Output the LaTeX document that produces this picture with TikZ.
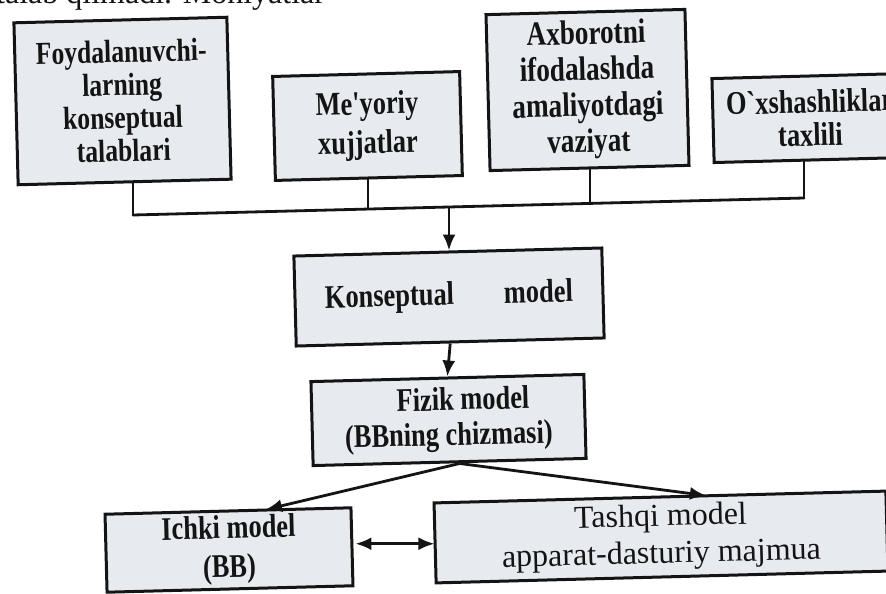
\documentclass[tikz,border=0pt]{standalone}
\usepackage{fontspec}
\setmainfont{Liberation Serif}
\newfontfamily\narrowserif{Liberation Serif Bold}[FakeStretch=0.8]
\newfontfamily\plainserif{Liberation Serif}
\usetikzlibrary{arrows.meta,calc}
\definecolor{ink}{RGB}{20,20,20}
\definecolor{boxfill}{RGB}{231,235,239}
\tikzset{
  blockbox/.style={draw=ink, line width=3pt, fill=boxfill, text=ink,
    align=center, inner sep=0pt, rotate=1.5},
  link/.style={draw=ink, line width=2.8pt, line cap=round},
  tip/.tip={Latex[length=16pt,width=13pt]},
  arrowlink/.style={link, line cap=butt, -tip},
}
\begin{document}
\begin{tikzpicture}[x=1pt,y=-1pt]
\useasboundingbox (0,0) rectangle (886,594);
\fill[white] (0,0) rectangle (886,594);
\begin{scope}
\clip (0,0) rectangle (886,594);

% running text of the page above the scheme
\node[anchor=base west, inner sep=0pt, text=ink,
      font={\plainserif\fontsize{32}{36}\selectfont}] (runtext) at (-4,4)
  {talab qilmadi. Mohiyatlar};

% source boxes
\node[blockbox, minimum width=213pt, minimum height=162pt,
      font={\narrowserif\fontsize{32}{33}\selectfont}] (users) at (122.5,101)
  {Foydalanuvchi-\\larning\\konseptual\\talablari};
\node[blockbox, minimum width=187pt, minimum height=104pt,
      font={\narrowserif\fontsize{33}{39}\selectfont}] (norms) at (367.5,126)
  {Me'yoriy\\xujjatlar};
\node[blockbox, minimum width=199pt, minimum height=156pt,
      font={\narrowserif\fontsize{34}{36}\selectfont}] (practice) at (587.5,90)
  {Axborotni\\ifodalashda\\amaliyotdagi\\vaziyat};
\node[blockbox, minimum width=194pt, minimum height=84pt,
      font={\narrowserif\fontsize{33}{33}\selectfont}] (analogs) at (810,118)
  {O`xshashliklar\\taxlili};

% model chain
\node[blockbox, minimum width=308pt, minimum height=90pt,
      font={\narrowserif\fontsize{33}{36}\selectfont}] (concept) at (449,297)
  {Konseptual\hspace{50pt}model};
\node[blockbox, minimum width=273pt, minimum height=84pt,
      font={\narrowserif\fontsize{33}{35}\selectfont}] (physical) at (448.5,420)
  {\hspace*{30pt}Fizik model\\(BBning chizmasi)};
\node[blockbox, minimum width=246pt, minimum height=78pt,
      font={\narrowserif\fontsize{33}{39}\selectfont}] (inner) at (229,550)
  {Ichki model\\(BB)};
\node[blockbox, minimum width=452pt, minimum height=80pt,
      font={\plainserif\fontsize{32}{37}\selectfont}] (outer) at (661,537)
  {Tashqi model\\apparat-dasturiy majmua};

% collecting bus under the source boxes
\coordinate (busL) at (133,215);
\coordinate (busB) at (368,209);
\coordinate (busM) at (449,207);
\coordinate (busC) at (590,203.4);
\coordinate (busR) at (804,198);

\draw[link] (busL |- users.south) -- (busL);
\draw[link] (busB |- norms.south) -- (busB);
\draw[link] (busC |- practice.south) -- (busC);
\draw[link] (busR |- analogs.south) -- (busR);
\draw[link] (busL) -- (busR);

% arrows
\draw[arrowlink] (busM) -- (busM |- concept.north);
\draw[arrowlink] (concept.south) -- (physical.north);
\draw[arrowlink] ($(physical.south)+(10,0)$) -- ($(inner.north)+(38,0)$);
\draw[arrowlink] ($(physical.south)+(10,0)$) -- ($(outer.north)+(46,0)$);
\draw[link, line cap=butt, tip-tip]
  ($(inner.east)+(2,-3)$) -- ($(inner.east)+(81,-3)$);
\end{scope}
\end{tikzpicture}
\end{document}
